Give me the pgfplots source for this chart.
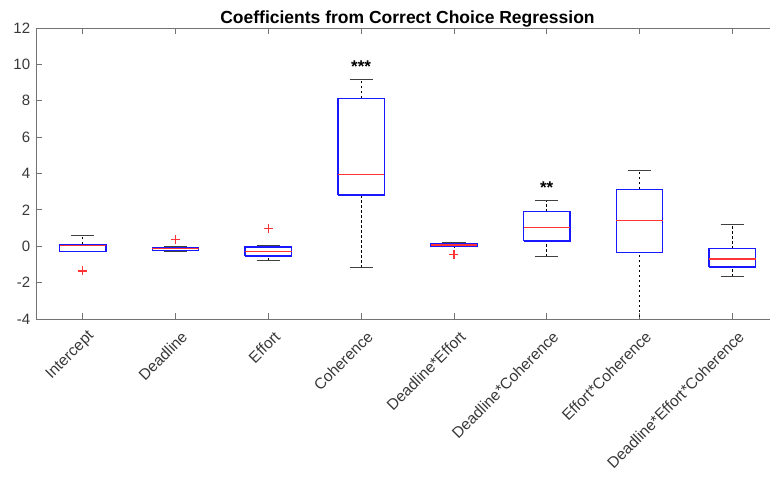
\documentclass[border=0pt]{standalone}
\usepackage{fontspec}
\setmainfont{Liberation Sans}
\usepackage{pgfplots}
\pgfplotsset{compat=1.18}

\definecolor{axisgray}{gray}{0.45}
\definecolor{labelgray}{gray}{0.22}
\definecolor{capgray}{gray}{0.25}
\definecolor{boxblue}{rgb}{0.1,0.1,1}
\definecolor{medred}{rgb}{1,0.2,0.2}

\pgfplotsset{
  boxedge/.style={draw=boxblue, line width=1.3pt, line join=miter, mark=none, solid},
  medline/.style={draw=medred, line width=1.1pt, mark=none, solid},
  whisk/.style={draw=black, line width=0.8pt, mark=none, dash pattern=on 2.5pt off 2.5pt},
  wcap/.style={draw=capgray, line width=1pt, mark=none, solid},
}

% one box: position, lower whisker, lower quartile, median, upper quartile, upper whisker
\newcommand{\boxat}[6]{%
  \pgfmathsetmacro{\xl}{#1-0.25}\pgfmathsetmacro{\xr}{#1+0.25}%
  \pgfmathsetmacro{\cl}{#1-0.125}\pgfmathsetmacro{\cr}{#1+0.125}%
  \edef\tmp{%
    \noexpand\addplot[whisk] coordinates {(#1,#2) (#1,#3)};
    \noexpand\addplot[whisk] coordinates {(#1,#5) (#1,#6)};
    \noexpand\addplot[wcap] coordinates {(\cl,#2) (\cr,#2)};
    \noexpand\addplot[wcap] coordinates {(\cl,#6) (\cr,#6)};
    \noexpand\addplot[boxedge] coordinates {(\xl,#3) (\xr,#3) (\xr,#5) (\xl,#5) (\xl,#3)};
    \noexpand\addplot[medline] coordinates {(\xl,#4) (\xr,#4)};
  }\tmp
}

\begin{document}
\begin{tikzpicture}
\useasboundingbox (0,0) rectangle (770pt,478pt);
\begin{axis}[
  at={(36.3pt,159pt)}, anchor=south west,
  scale only axis,
  width=742.4pt, height=291pt,
  xmin=0.5, xmax=8.5,
  ymin=-4, ymax=12,
  xtick={1,...,8},
  xticklabels={Intercept,Deadline,Effort,Coherence,Deadline*Effort,Deadline*Coherence,Effort*Coherence,Deadline*Effort*Coherence},
  ytick={-4,-2,0,2,4,6,8,10,12},
  yticklabels={-4,-2,0,2,4,6,8,10,12},
  tick align=inside,
  major tick length=6pt,
  axis line style={axisgray, line width=0.8pt},
  every tick/.style={axisgray, line width=0.8pt},
  tick label style={labelgray, font=\fontsize{15}{18}\selectfont},
  xticklabel style={xshift=9pt, yshift=-15pt, rotate=45, anchor=east, inner sep=0pt, font=\fontsize{15.5}{18}\selectfont},
  yticklabel style={anchor=east, inner sep=0pt, xshift=-6pt},
  title={Coefficients from Correct Choice Regression},
  title style={at={(0.5,1)}, anchor=base, yshift=-2pt, font=\fontsize{17.5}{20}\selectfont\bfseries, black},
  clip=true,
]
%       pos  lowW   Q1     med    Q3     upW
\boxat{1}{-0.30}{-0.30}{0.05}{0.11}{0.58}   % Intercept
\boxat{2}{-0.30}{-0.22}{-0.11}{-0.05}{0.00} % Deadline
\boxat{3}{-0.77}{-0.53}{-0.30}{-0.04}{0.02} % Effort
\boxat{4}{-1.19}{2.82}{3.96}{8.13}{9.18}    % Coherence
\boxat{5}{-0.04}{-0.03}{0.07}{0.13}{0.22}   % Deadline*Effort
\boxat{6}{-0.57}{0.29}{1.02}{1.90}{2.49}    % Deadline*Coherence
\boxat{7}{-5.00}{-0.33}{1.44}{3.13}{4.14}   % Effort*Coherence
\boxat{8}{-1.69}{-1.14}{-0.70}{-0.13}{1.19} % Deadline*Effort*Coherence

% outliers
\addplot[only marks, mark=+, mark size=4.5pt, mark options={draw=medred, line width=1.3pt}]
  coordinates {(1,-1.36) (2,0.38) (3,0.97) (5,-0.44)};

% significance stars
\node[font=\fontsize{17}{20}\selectfont\bfseries] at (axis cs:4,9.85) {***};
\node[font=\fontsize{17}{20}\selectfont\bfseries] at (axis cs:6,3.2) {**};
\end{axis}
\end{tikzpicture}
\end{document}
